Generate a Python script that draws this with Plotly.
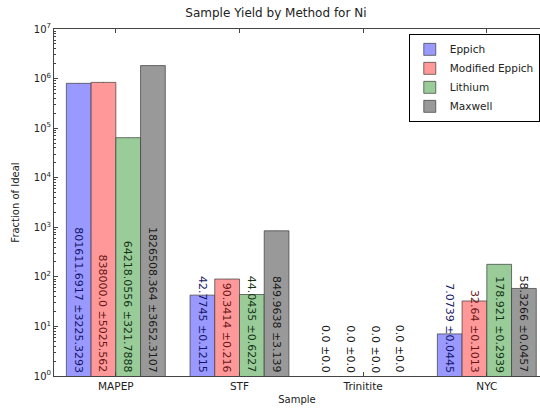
import plotly.graph_objects as go

categories = ["MAPEP", "STF", "Trinitite", "NYC"]
series_names = ["Eppich", "Modified Eppich", "Lithium", "Maxwell"]

eppich = [801611.6917, 42.7745, 0.0, 7.0739]
eppich_err = [3225.3293, 0.1215, 0.0, 0.0445]
mod_eppich = [838000.0, 90.3414, 0.0, 32.64]
mod_eppich_err = [5025.562, 0.216, 0.0, 0.1013]
lithium = [64218.0556, 44.0435, 0.0, 178.921]
lithium_err = [321.7888, 0.6227, 0.0, 0.2939]
maxwell = [1826508.364, 849.9638, 0.0, 58.3266]
maxwell_err = [3652.3107, 3.139, 0.0, 0.0457]

values = [eppich, mod_eppich, lithium, maxwell]
errors = [eppich_err, mod_eppich_err, lithium_err, maxwell_err]

fills = ["#9999ff", "#ff9999", "#99cc99", "#999999"]
text_dark = ["#141466", "#661414", "#143314", "#1a1a1a"]

FONT = "DejaVu Sans"
x_idx = list(range(len(categories)))

fig = go.Figure()
for name, vals, errs, col in zip(series_names, values, errors, fills):
    fig.add_trace(go.Bar(
        name=name, x=x_idx, y=vals,
        marker=dict(color=col, line=dict(color="rgba(60,60,60,0.7)", width=1)),
        error_y=dict(type="data", array=errs, color="black", thickness=1, width=0),
    ))

bw = 0.2
for j, (vals, errs) in enumerate(zip(values, errors)):
    for i, (v, e) in enumerate(zip(vals, errs)):
        fig.add_annotation(
            x=i + (j - 1.5) * bw, y=0, xref="x", yref="y",
            text=f"{v} \u00b1{e}", textangle=90, showarrow=False,
            yanchor="bottom", xanchor="center", yshift=1,
            font=dict(family=FONT, size=11, color=text_dark[j] if v > 1 else "#111"),
        )

minor_vals = [k * 10 ** n for n in range(0, 7) for k in range(2, 10)]

fig.update_layout(
    width=540, height=409,
    margin=dict(l=54, r=0, t=29, b=33),
    paper_bgcolor="white", plot_bgcolor="white",
    barmode="group", bargap=0.2, bargroupgap=0,
    font=dict(family=FONT, size=10, color="#222"),
    title=dict(text="Sample Yield by Method for Ni", x=0.511, xanchor="center",
               y=1 - 13 / 409, yanchor="middle", font=dict(size=12, color="#222")),
    legend=dict(x=0.730, y=0.986, xanchor="left", yanchor="top",
                bordercolor="black", borderwidth=1, bgcolor="white",
                font=dict(size=10.5, color="#222"), tracegroupgap=0),
    xaxis=dict(range=[-0.5, 3.43], tickvals=x_idx, ticktext=categories,
               showline=True, linecolor="#444", linewidth=1, mirror="ticks",
               ticks="inside", ticklen=4, tickcolor="#444", showgrid=False, zeroline=False,
               tickfont=dict(size=10.5),
               title=dict(text="Sample", standoff=5, font=dict(size=10))),
    yaxis=dict(type="log", range=[0, 7],
               tickvals=[10 ** n for n in range(8)],
               ticktext=[f"10<sup>{n}</sup>" for n in range(8)],
               showline=True, linecolor="#444", linewidth=1, mirror=False,
               ticks="inside", ticklen=4, tickcolor="#444", showgrid=False, zeroline=False,
               minor=dict(tickvals=minor_vals, ticks="inside", ticklen=2, tickcolor="#444", showgrid=False),
               title=dict(text="Fraction of Ideal", standoff=12, font=dict(size=10))),
)

fig.write_html("out.html")
